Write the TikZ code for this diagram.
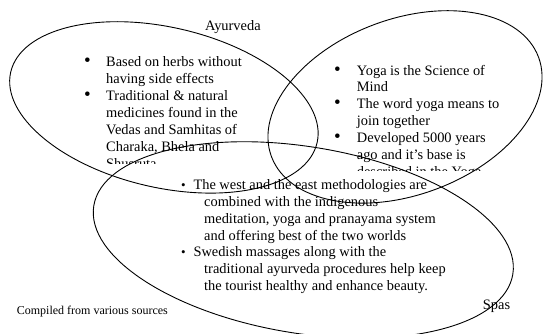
\documentclass[tikz,border=0pt]{standalone}
\usepackage{fontspec}
\setmainfont{Liberation Serif}
\usetikzlibrary{shapes.geometric}
\newcommand{\bigdot}{{\fontsize{19}{17}\selectfont\textbullet}}
\newcommand{\smalldot}{{\fontsize{13}{14}\selectfont\textbullet}}
\tikzset{
  venn/.style={ellipse, draw, line width=0.9pt, inner sep=0pt, outer sep=0pt},
  bullets/.style={anchor=base west, inner sep=0pt, font=\fontsize{14.4}{16.9}\selectfont},
  caption/.style={anchor=base west, inner sep=0pt, font=\fontsize{14.4}{17}\selectfont}
}
\begin{document}
\begin{tikzpicture}[x=1pt,y=1pt, line join=round, line cap=round]
\clip (0,0) rectangle (543,-333);
% the three sets
\node[venn, minimum width=314.4pt, minimum height=160.2pt, rotate=-13] (ayurveda) at (163.9,-107.4) {};
\node[venn, minimum width=285pt, minimum height=175.8pt, rotate=20.4] (yoga) at (405,-106.9) {};
\node[venn, minimum width=424.6pt, minimum height=186.6pt, rotate=-9.3] (spas) at (303.3,-240) {};
% set names
\node[caption] (ayurlabel) at (205,-30.7) {Ayurveda};
\node[caption] (spaslabel) at (482.7,-309.3) {Spas};
\node[anchor=base west, inner sep=0pt, font=\fontsize{12}{14}\selectfont] (source) at (16.7,-314) {Compiled from various sources};
% text in the sets, cut off at the bottom
\begin{scope}
  \clip (80,-40) rectangle (270,-163.3);
  \node[bullets] (ayurtext) at (84,-66.7) {\begin{tabular}[t]{@{}p{22pt}@{}l@{}}
    \bigdot & Based on herbs without\\
            & having side effects\\
    \bigdot & Traditional \& natural\\
            & medicines found in the\\
            & Vedas and Samhitas of\\
            & Charaka, Bhela and\\
            & Shusruta
  \end{tabular}};
\end{scope}
\begin{scope}
  \clip (330,-50) rectangle (530,-170);
  \node[bullets] (yogatext) at (334,-75) {\begin{tabular}[t]{@{}p{22.7pt}@{}l@{}}
    \bigdot & Yoga is the Science of\\
            & Mind\\
    \bigdot & The word yoga means to\\
            & join together\\
    \bigdot & Developed 5000 years\\
            & ago and it’s base is\\
            & described in the Yoga
  \end{tabular}};
\end{scope}
\node[bullets] (spastext) at (181,-189.3) {\begin{tabular}[t]{@{}p{12.3pt}@{}l@{}}
  \smalldot & The west and the east methodologies are\\
  & \hspace*{10.7pt}combined with the indigenous\\
  & \hspace*{10.7pt}meditation, yoga and pranayama system\\
  & \hspace*{10.7pt}and offering best of the two worlds\\
  \smalldot & Swedish massages along with the\\
  & \hspace*{10.7pt}traditional ayurveda procedures help keep\\
  & \hspace*{10.7pt}the tourist healthy and enhance beauty.
\end{tabular}};
\end{tikzpicture}
\end{document}
